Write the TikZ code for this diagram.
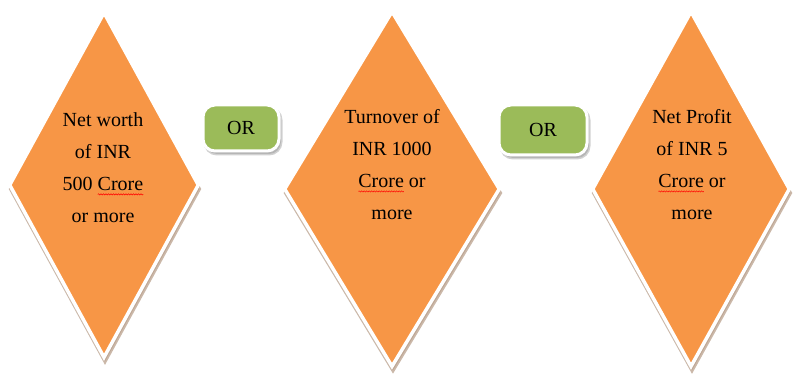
\documentclass[tikz,border=0pt]{standalone}
\usepackage{fontspec}
\setmainfont{Liberation Serif}
\usetikzlibrary{shapes.geometric, shadows, decorations.pathmorphing}
\definecolor{DiaOrange}{RGB}{247, 150, 70}
\definecolor{OrGreen}{RGB}{155, 187, 89}
\definecolor{ShadeBrown}{RGB}{185, 160, 140}
\newlength{\wavylen}
\newcommand{\spellwave}[1]{\settowidth{\wavylen}{#1}\rlap{\tikz[overlay, baseline=0pt]\draw[red, line width=0.5pt, decorate, decoration={snake, amplitude=0.6pt, segment length=2.5pt}] (0pt,-3.5pt) -- (\wavylen,-3.5pt);}#1}

\begin{document}
\begin{tikzpicture}[x=1pt, y=1pt,
    crit/.style={diamond, draw=white, line width=3.5pt, fill=DiaOrange, inner sep=0pt,
        drop shadow={shadow xshift=1pt, shadow yshift=-4pt, fill=ShadeBrown, draw=ShadeBrown, opacity=0.75}},
    crittext/.style={align=center, inner sep=0pt, font=\fontsize{20}{32}\selectfont},
    orbox/.style={rectangle, rounded corners=12pt, draw=white, line width=3pt, fill=OrGreen, inner sep=0pt,
        font=\fontsize{20}{24}\selectfont,
        drop shadow={shadow xshift=2pt, shadow yshift=-3pt, fill=black!45, draw=black!30, opacity=0.6}}]
    \useasboundingbox (0,0) rectangle (793,375);
    % criteria diamonds
    \node[crit, minimum width=190pt, minimum height=346pt] (worth) at (104,190) {};
    \node[crit, minimum width=216pt, minimum height=356pt] (turnover) at (392,186) {};
    \node[crit, minimum width=198pt, minimum height=356pt] (profit) at (691,186) {};
    \node[crittext] (worthtxt) at (103,207) {Net worth\\of INR\\500 \spellwave{Crore}\\or more};
    \node[crittext] (turnovertxt) at (392,210) {Turnover of\\INR 1000\\\spellwave{Crore} or\\more};
    \node[crittext] (profittxt) at (692,210) {Net Profit\\of INR 5\\\spellwave{Crore} or\\more};
    % OR boxes
    \node[orbox, minimum width=76pt, minimum height=46pt] (or1) at (241,247) {OR};
    \node[orbox, minimum width=88pt, minimum height=50pt] (or2) at (543,245) {OR};
\end{tikzpicture}
\end{document}
